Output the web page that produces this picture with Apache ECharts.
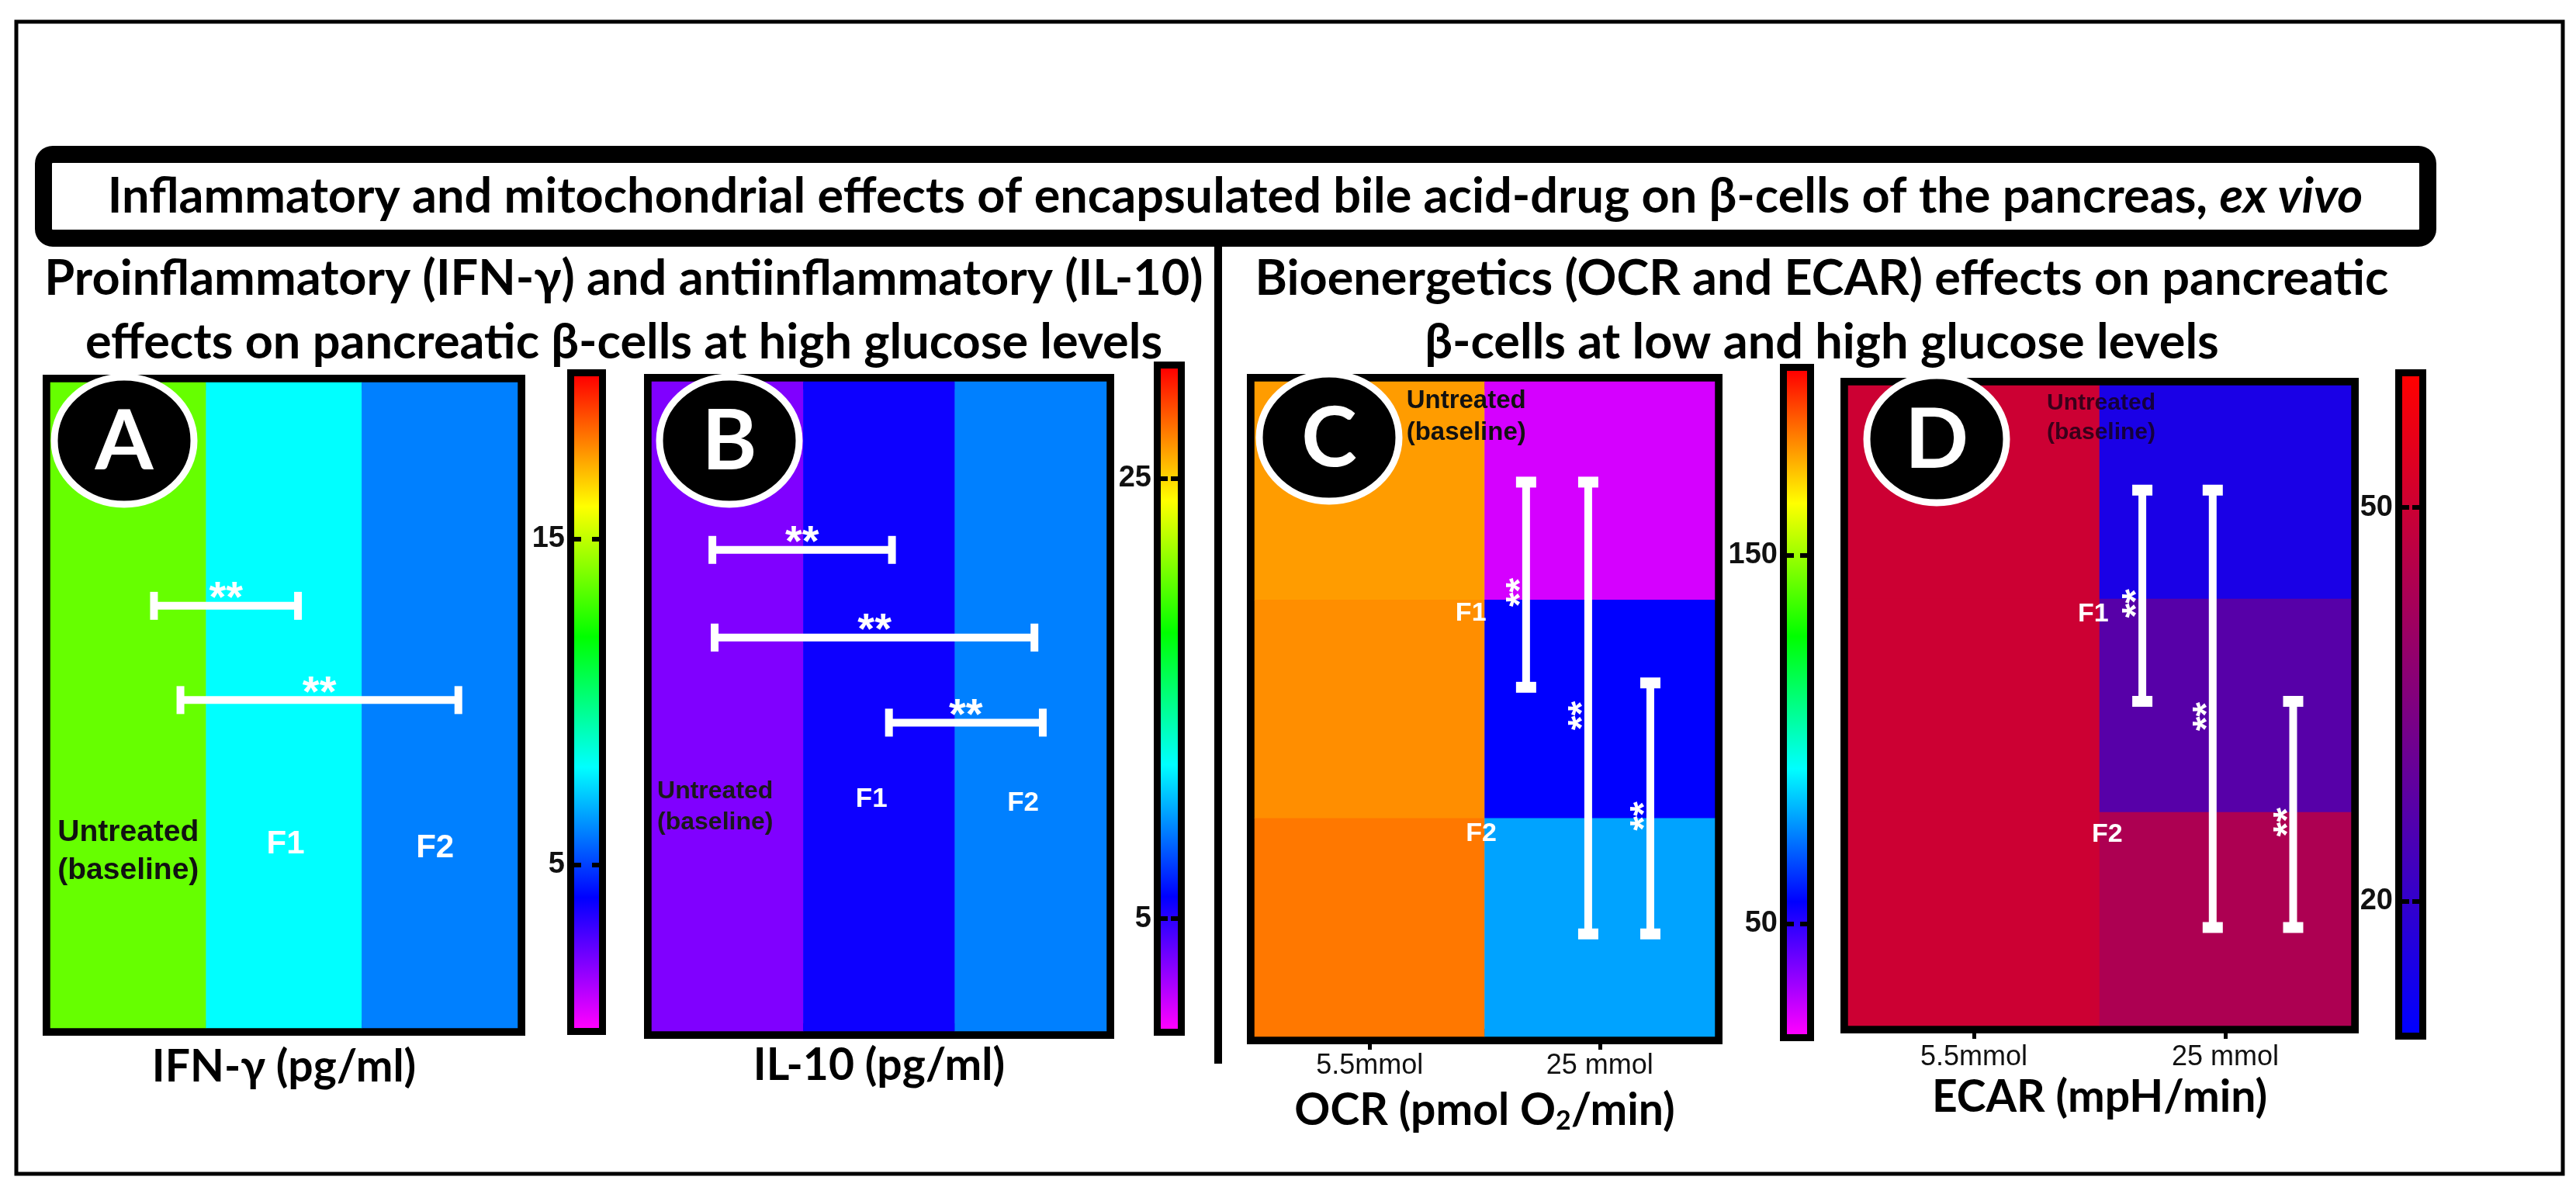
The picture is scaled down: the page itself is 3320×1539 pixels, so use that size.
<!DOCTYPE html>
<html>
<head>
<meta charset="utf-8">
<script src="https://cdn.jsdelivr.net/npm/echarts@6/dist/echarts.min.js"></script>
<style>
html,body{margin:0;padding:0;background:#ffffff;}
#chart{width:3320px;height:1539px;}
</style>
</head>
<body>
<div id="chart"></div>
<script>
// ---------------- data ----------------
const groups = ['Untreated', 'F1', 'F2'];
const glucoseLevels = ['5.5mmol', '25 mmol'];
const rowOrder = ['F2', 'F1', 'Untreated']; // bottom -> top in panels C and D

const ifnGamma = [13.6, 8.0, 6.0];        // IFN-γ pg/ml : Untreated, F1, F2
const il10 = [3.0, 5.7, 9.0];             // IL-10 pg/ml : Untreated, F1, F2
const ocrLowGlucose = [178, 180, 183];    // OCR at 5.5 mmol : Untreated, F1, F2
const ocrHighGlucose = [26, 56, 79];      // OCR at 25 mmol
const ecarLowGlucose = [50, 50, 50];      // ECAR at 5.5 mmol
const ecarHighGlucose = [15, 27, 44];     // ECAR at 25 mmol

const ifnScale = [0, 20];
const il10Scale = [0, 30];
const ocrScale = [20, 200];
const ecarScale = [10, 60];

const ifnTicks = [5, 15];
const il10Ticks = [5, 25];
const ocrTicks = [50, 150];
const ecarTicks = [20, 50];

// significance comparisons (between group positions)
const ifnPairs = [[0.665, 1.59, 0.654], [0.835, 2.62, 0.508]];
const il10Pairs = [[0.40, 1.585, 0.741], [0.415, 2.525, 0.606], [1.565, 2.58, 0.475]];
const ocrPairs = [[1.18, 1.60, 2.54], [1.45, 0.47, 2.54], [1.72, 0.47, 1.62]];
const ecarPairs = [[1.17, 1.52, 2.51], [1.45, 0.46, 2.51], [1.77, 0.46, 1.52]];

// ---------------- styles / layout ----------------
const RAINBOW = ['#FF00FF', '#0000FF', '#00FFFF', '#00FF00', '#FFFF00', '#FF0000'];
const BLUERED = ['#0000FF', '#FF0000'];
const HEAD = 'Lato, "Open Sans", sans-serif';
const NARROW = '"Liberation Sans Narrow", "Liberation Sans", Arial, sans-serif';
const ARIAL = '"Liberation Sans", Arial, sans-serif';

function heat2(low, high) {
  const out = [];
  groups.forEach((g, i) => {
    out.push([0, 2 - i, low[i]]);
    out.push([1, 2 - i, high[i]]);
  });
  return out;
}

const panels = [
  {
    grid: {left: 65, top: 493, width: 602, height: 832},
    bar: {left: 740, top: 485, width: 32, height: 840},
    xCats: groups, yCats: ['IFN-γ'], cols: 3, rows: 1,
    data: groups.map((g, i) => [i, 0, ifnGamma[i]]),
    scale: ifnScale, ticks: ifnTicks, colors: RAINBOW,
    name: 'IFN-γ (pg/ml)', nameGap: 22, showX: false,
    badge: {letter: 'A', cx: 160, cy: 568},
    dir: 'h', pairs: ifnPairs, starFont: 'bold 56px ' + ARIAL,
    labels: [
      {pos: [0.5, 0.273], text: groups[0] + '\n(baseline)', color: '#111', align: 'center', va: 'middle', size: 39},
      {pos: [1.51, 0.284], text: groups[1], color: '#fff', align: 'center', va: 'middle', size: 42},
      {pos: [2.47, 0.278], text: groups[2], color: '#fff', align: 'center', va: 'middle', size: 42}
    ]
  },
  {
    grid: {left: 840, top: 492, width: 586, height: 837},
    bar: {left: 1496, top: 475, width: 22, height: 851},
    xCats: groups, yCats: ['IL-10'], cols: 3, rows: 1,
    data: groups.map((g, i) => [i, 0, il10[i]]),
    scale: il10Scale, ticks: il10Ticks, colors: RAINBOW,
    name: 'IL-10 (pg/ml)', nameGap: 16, showX: false,
    badge: {letter: 'B', cx: 940, cy: 568},
    dir: 'h', pairs: il10Pairs, starFont: 'bold 56px ' + ARIAL,
    labels: [
      {pos: [0.036, 0.345], text: groups[0] + '\n(baseline)', color: '#1a1a1a', align: 'left', va: 'middle', size: 32},
      {pos: [1.45, 0.357], text: groups[1], color: '#fff', align: 'center', va: 'middle', size: 35},
      {pos: [2.45, 0.351], text: groups[2], color: '#fff', align: 'center', va: 'middle', size: 35}
    ]
  },
  {
    grid: {left: 1617, top: 492, width: 593, height: 844},
    bar: {left: 2303, top: 478, width: 26, height: 855},
    xCats: glucoseLevels, yCats: rowOrder, cols: 2, rows: 3,
    data: heat2(ocrLowGlucose, ocrHighGlucose),
    scale: ocrScale, ticks: ocrTicks, colors: RAINBOW,
    name: 'OCR (pmol O{sub|2}/min)', nameGap: 66, showX: true, labelMargin: 20,
    badge: {letter: 'C', cx: 1713, cy: 564},
    dir: 'v', pairs: ocrPairs, starFont: 'bold 48px ' + ARIAL,
    labels: [
      {pos: [0.66, 2.985], text: groups[0] + '\n(baseline)', color: '#111', align: 'left', va: 'top', size: 33},
      {pos: [0.94, 1.94], text: groups[1], color: '#fff', align: 'center', va: 'middle', size: 34},
      {pos: [0.985, 0.93], text: groups[2], color: '#fff', align: 'center', va: 'middle', size: 34}
    ]
  },
  {
    grid: {left: 2382, top: 497, width: 648, height: 825},
    bar: {left: 3096, top: 485, width: 22, height: 846},
    xCats: glucoseLevels, yCats: rowOrder, cols: 2, rows: 3,
    data: heat2(ecarLowGlucose, ecarHighGlucose),
    scale: ecarScale, ticks: ecarTicks, colors: BLUERED,
    name: 'ECAR (mpH/min)', nameGap: 62, showX: true, labelMargin: 23,
    badge: {letter: 'D', cx: 2496, cy: 566},
    dir: 'v', pairs: ecarPairs, starFont: 'bold 48px ' + ARIAL,
    labels: [
      {pos: [0.79, 2.985], text: groups[0] + '\n(baseline)', color: 'rgba(20,0,20,0.8)', align: 'left', va: 'top', size: 30},
      {pos: [0.975, 1.93], text: groups[1], color: '#fff', align: 'center', va: 'middle', size: 34},
      {pos: [1.03, 0.895], text: groups[2], color: '#fff', align: 'center', va: 'middle', size: 34}
    ]
  }
];

// ---------------- build option ----------------
const grids = [], xAxes = [], yAxes = [], series = [], visualMaps = [];

panels.forEach((p, k) => {
  grids.push(Object.assign({show: true, borderColor: '#000', borderWidth: 20, backgroundColor: 'transparent'}, p.grid));
});
panels.forEach((p, k) => {
  grids.push(Object.assign({show: true, borderColor: '#000', borderWidth: 18, backgroundColor: 'transparent'}, p.bar));
});

panels.forEach((p, k) => {
  xAxes.push({
    gridIndex: k, type: 'category', data: p.xCats, position: 'bottom',
    axisLine: {show: false}, splitLine: {show: false},
    axisTick: {show: p.showX, alignWithLabel: true, length: 17, lineStyle: {color: '#000', width: 5}},
    axisLabel: {show: p.showX, margin: p.labelMargin || 20, fontFamily: NARROW, fontSize: 36, color: '#111'},
    name: p.name, nameLocation: 'middle', nameGap: p.nameGap,
    nameTextStyle: {fontFamily: HEAD, fontWeight: 'bold', fontSize: 57, color: '#000',
      rich: {sub: {fontFamily: HEAD, fontWeight: 'bold', fontSize: 34, color: '#000', padding: [26, 0, 0, 0]}}}
  });
  xAxes.push({gridIndex: k, type: 'value', min: 0, max: p.cols, show: false});
  yAxes.push({gridIndex: k, type: 'category', data: p.yCats, show: false});
  yAxes.push({gridIndex: k, type: 'value', min: 0, max: p.rows, show: false});
});
panels.forEach((p, k) => {
  xAxes.push({gridIndex: 4 + k, type: 'value', min: 0, max: 1, show: false});
  yAxes.push({
    gridIndex: 4 + k, type: 'value', min: p.scale[0], max: p.scale[1], position: 'left', z: 10,
    axisLine: {show: false}, splitLine: {show: false},
    axisTick: {show: true, inside: true, length: 9, customValues: p.ticks, lineStyle: {color: '#000', width: 6}},
    axisLabel: {show: true, customValues: p.ticks, margin: 12, fontFamily: ARIAL, fontWeight: 'bold', fontSize: 38, color: '#111'}
  });
  yAxes.push({
    gridIndex: 4 + k, type: 'value', min: p.scale[0], max: p.scale[1], position: 'right', z: 10,
    axisLine: {show: false}, splitLine: {show: false},
    axisTick: {show: true, inside: true, length: 9, customValues: p.ticks, lineStyle: {color: '#000', width: 6}},
    axisLabel: {show: false}
  });
});

// heatmaps (series 0..3)
panels.forEach((p, k) => {
  series.push({
    type: 'heatmap', xAxisIndex: 2 * k, yAxisIndex: 2 * k, data: p.data,
    itemStyle: {borderWidth: 0}, emphasis: {disabled: true}, label: {show: false}, z: 1
  });
  visualMaps.push({type: 'continuous', show: false, seriesIndex: k, dimension: 2,
    min: p.scale[0], max: p.scale[1], inRange: {color: p.colors}});
});

// colour bars (series 4..7)
panels.forEach((p, k) => {
  const colors = p.colors;
  series.push({
    type: 'custom', xAxisIndex: 8 + k, yAxisIndex: 8 + 2 * k,
    data: [[0, p.scale[0], p.scale[1]]], silent: true, z: 1,
    renderItem: function (params, api) {
      const a = api.coord([0, api.value(2)]);
      const b = api.coord([1, api.value(1)]);
      return {
        type: 'rect',
        shape: {x: a[0], y: a[1], width: b[0] - a[0], height: b[1] - a[1]},
        style: {fill: new echarts.graphic.LinearGradient(0, 1, 0, 0,
          colors.map((c, i) => ({offset: i / (colors.length - 1), color: c})))}
      };
    }
  });
});

// significance brackets
panels.forEach((p, k) => {
  const dir = p.dir, starFont = p.starFont;
  series.push({
    type: 'custom', xAxisIndex: 2 * k + 1, yAxisIndex: 2 * k + 1, data: p.pairs, silent: true, z: 5,
    renderItem: function (params, api) {
      const col = '#ffffff';
      if (dir === 'h') {
        const a = api.coord([api.value(0), api.value(2)]);
        const b = api.coord([api.value(1), api.value(2)]);
        const cap = 18;
        return {type: 'group', children: [
          {type: 'line', shape: {x1: a[0], y1: a[1], x2: b[0], y2: b[1]}, style: {stroke: col, lineWidth: 10}},
          {type: 'line', shape: {x1: a[0], y1: a[1] - cap, x2: a[0], y2: a[1] + cap}, style: {stroke: col, lineWidth: 10}},
          {type: 'line', shape: {x1: b[0], y1: b[1] - cap, x2: b[0], y2: b[1] + cap}, style: {stroke: col, lineWidth: 10}},
          {type: 'text', x: (a[0] + b[0]) / 2, y: a[1] - 8,
            style: {text: '**', fill: col, font: starFont, align: 'center', verticalAlign: 'middle'}}
        ]};
      }
      const t = api.coord([api.value(0), api.value(2)]);
      const bt = api.coord([api.value(0), api.value(1)]);
      const cap = 13;
      return {type: 'group', children: [
        {type: 'line', shape: {x1: t[0], y1: t[1], x2: bt[0], y2: bt[1]}, style: {stroke: col, lineWidth: 10}},
        {type: 'line', shape: {x1: t[0] - cap, y1: t[1], x2: t[0] + cap, y2: t[1]}, style: {stroke: col, lineWidth: 14}},
        {type: 'line', shape: {x1: bt[0] - cap, y1: bt[1], x2: bt[0] + cap, y2: bt[1]}, style: {stroke: col, lineWidth: 14}},
        {type: 'text', x: t[0] - 6, y: (t[1] + bt[1]) / 2 + 10, rotation: Math.PI / 2,
          style: {text: '**', fill: col, font: starFont, align: 'center', verticalAlign: 'middle'}}
      ]};
    }
  });
});

// in-cell group labels
panels.forEach((p, k) => {
  const labels = p.labels;
  series.push({
    type: 'custom', xAxisIndex: 2 * k + 1, yAxisIndex: 2 * k + 1,
    data: labels.map(l => l.pos), silent: true, z: 6,
    renderItem: function (params, api) {
      const L = labels[params.dataIndex];
      const pt = api.coord([api.value(0), api.value(1)]);
      return {type: 'text', x: pt[0], y: pt[1],
        style: {text: L.text, fill: L.color, font: 'bold ' + L.size + 'px ' + NARROW,
          align: L.align, verticalAlign: L.va, lineHeight: Math.round(L.size * 1.25)}};
    }
  });
});

// decorations
const graphicEls = [
  {type: 'rect', shape: {x: 21, y: 28, width: 3282, height: 1485}, style: {fill: 'none', stroke: '#000', lineWidth: 5}, z: 0},
  {type: 'rect', shape: {x: 56, y: 199, width: 3073, height: 108, r: 12}, style: {fill: '#fff', stroke: '#000', lineWidth: 22}, z: 0},
  {type: 'line', shape: {x1: 1570, y1: 318, x2: 1570, y2: 1371}, style: {stroke: '#000', lineWidth: 10}, z: 0}
];
panels.forEach(p => {
  graphicEls.push({type: 'ellipse', shape: {cx: p.badge.cx, cy: p.badge.cy, rx: 90, ry: 82},
    style: {fill: '#000', stroke: '#fff', lineWidth: 9}, z: 20});
  graphicEls.push({type: 'text', x: p.badge.cx, y: p.badge.cy + 2, z: 21,
    style: {text: p.badge.letter, fill: '#fff', font: 'bold 108px ' + HEAD,
      textAlign: 'center', textVerticalAlign: 'middle', align: 'center', verticalAlign: 'middle'}});
});

const headStyle = {fontFamily: HEAD, fontWeight: 'bold', fontSize: 63, color: '#000'};
const option = {
  backgroundColor: '#ffffff',
  animation: false,
  title: [
    {text: 'Inflammatory and mitochondrial effects of encapsulated bile acid-drug on β-cells of the pancreas, {i|ex vivo}',
      left: 1592, top: 254, textAlign: 'center', textVerticalAlign: 'middle', padding: 0,
      textStyle: Object.assign({}, headStyle, {rich: {i: Object.assign({}, headStyle, {fontStyle: 'italic'})}})},
    {text: 'Proinflammatory (IFN-γ) and antiinflammatory (IL-10)', left: 804, top: 360, textAlign: 'center', textVerticalAlign: 'middle', padding: 0, textStyle: headStyle},
    {text: 'effects on pancreatic β-cells at high glucose levels', left: 804, top: 442, textAlign: 'center', textVerticalAlign: 'middle', padding: 0, textStyle: headStyle},
    {text: 'Bioenergetics (OCR and ECAR) effects on pancreatic', left: 2348, top: 360, textAlign: 'center', textVerticalAlign: 'middle', padding: 0, textStyle: headStyle},
    {text: 'β-cells at low and high glucose levels', left: 2348, top: 442, textAlign: 'center', textVerticalAlign: 'middle', padding: 0, textStyle: headStyle}
  ],
  grid: grids,
  xAxis: xAxes,
  yAxis: yAxes,
  visualMap: visualMaps,
  series: series,
  graphic: {elements: graphicEls}
};

const chart = echarts.init(document.getElementById('chart'), null, {renderer: 'canvas', width: 3320, height: 1539});
chart.setOption(option);
</script>
</body>
</html>
